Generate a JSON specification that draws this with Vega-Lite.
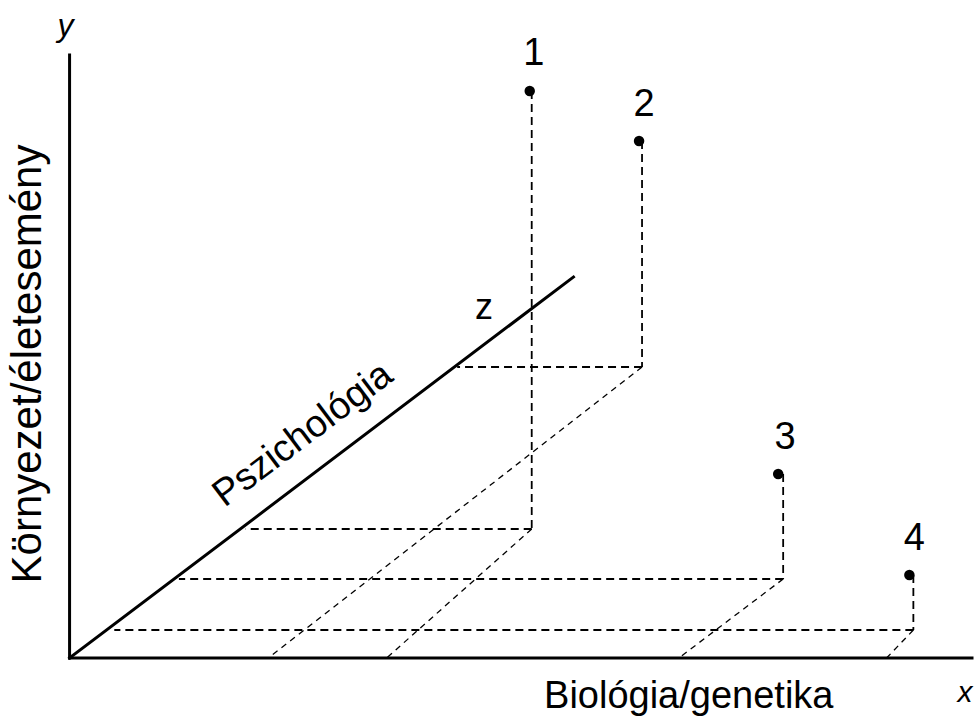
{
  "$schema": "https://vega.github.io/schema/vega-lite/v6.json",
  "width": 978,
  "height": 727,
  "autosize": {"type": "fit", "contains": "padding"},
  "padding": 0,
  "background": "white",
  "config": {"view": {"stroke": null}},
  "datasets": {
    "axes": [
      {"seg": "y", "ord": 0, "x": 0, "y": 0},
      {"seg": "y", "ord": 1, "x": 0, "y": 603},
      {"seg": "x", "ord": 0, "x": 0, "y": 0},
      {"seg": "x", "ord": 1, "x": 908, "y": 0},
      {"seg": "z", "ord": 0, "x": 0, "y": 0},
      {"seg": "z", "ord": 1, "x": 507, "y": 381}
    ],
    "guides": [
      {"seg": "v1", "ord": 0, "x": 465, "y": 567},
      {"seg": "v1", "ord": 1, "x": 465, "y": 129},
      {"seg": "h1", "ord": 0, "x": 465, "y": 129},
      {"seg": "h1", "ord": 1, "x": 177, "y": 129},
      {"seg": "v2", "ord": 0, "x": 576, "y": 517},
      {"seg": "v2", "ord": 1, "x": 576, "y": 291},
      {"seg": "h2", "ord": 0, "x": 576, "y": 291},
      {"seg": "h2", "ord": 1, "x": 390, "y": 291},
      {"seg": "v3", "ord": 0, "x": 718, "y": 184},
      {"seg": "v3", "ord": 1, "x": 718, "y": 79},
      {"seg": "h3", "ord": 0, "x": 718, "y": 79},
      {"seg": "h3", "ord": 1, "x": 110, "y": 79},
      {"seg": "v4", "ord": 0, "x": 849, "y": 83},
      {"seg": "v4", "ord": 1, "x": 849, "y": 28},
      {"seg": "h4", "ord": 0, "x": 849, "y": 28},
      {"seg": "h4", "ord": 1, "x": 45, "y": 28}
    ],
    "diagonals": [
      {"seg": "d1", "ord": 0, "x": 465, "y": 129},
      {"seg": "d1", "ord": 1, "x": 319, "y": 0},
      {"seg": "d2", "ord": 0, "x": 576, "y": 291},
      {"seg": "d2", "ord": 1, "x": 200, "y": 0},
      {"seg": "d3", "ord": 0, "x": 718, "y": 79},
      {"seg": "d3", "ord": 1, "x": 613, "y": 0},
      {"seg": "d4", "ord": 0, "x": 849, "y": 28},
      {"seg": "d4", "ord": 1, "x": 822, "y": 0}
    ],
    "points": [
      {"id": "1", "x": 463, "y": 567, "lx": 467, "ly": 604},
      {"id": "2", "x": 573, "y": 517, "lx": 578, "ly": 553},
      {"id": "3", "x": 713, "y": 184, "lx": 720, "ly": 220},
      {"id": "4", "x": 845, "y": 83, "lx": 850, "ly": 119}
    ],
    "italic": [
      {"t": "y", "x": -4, "y": 632, "size": 32},
      {"t": "x", "x": 901, "y": -35, "size": 30}
    ],
    "labels": [
      {"t": "z", "x": 417, "y": 350, "a": 0, "size": 36},
      {"t": "Biológia/genetika", "x": 623, "y": -39, "a": 0, "size": 38},
      {"t": "Környezet/életesemény", "x": -42, "y": 294, "a": 270, "size": 42},
      {"t": "Pszichológia", "x": 235, "y": 223, "a": -37, "size": 38}
    ]
  },
  "layer": [
    {
      "data": {"name": "axes"},
      "mark": {"type": "line", "color": "black", "strokeWidth": 3, "strokeCap": "square"},
      "encoding": {
        "x": {"field": "x", "type": "quantitative", "axis": null, "scale": {"domain": [-70, 908], "nice": false, "zero": false}},
        "y": {"field": "y", "type": "quantitative", "axis": null, "scale": {"domain": [-69, 658], "nice": false, "zero": false}},
        "detail": {"field": "seg"},
        "order": {"field": "ord"}
      }
    },
    {
      "data": {"name": "guides"},
      "mark": {"type": "line", "color": "black", "strokeWidth": 1.8, "strokeDash": [8, 5]},
      "encoding": {
        "x": {"field": "x", "type": "quantitative", "axis": null, "scale": {"domain": [-70, 908], "nice": false, "zero": false}},
        "y": {"field": "y", "type": "quantitative", "axis": null, "scale": {"domain": [-69, 658], "nice": false, "zero": false}},
        "detail": {"field": "seg"},
        "order": {"field": "ord"}
      }
    },
    {
      "data": {"name": "diagonals"},
      "mark": {"type": "line", "color": "black", "strokeWidth": 1.3, "strokeDash": [6, 5]},
      "encoding": {
        "x": {"field": "x", "type": "quantitative", "axis": null, "scale": {"domain": [-70, 908], "nice": false, "zero": false}},
        "y": {"field": "y", "type": "quantitative", "axis": null, "scale": {"domain": [-69, 658], "nice": false, "zero": false}},
        "detail": {"field": "seg"},
        "order": {"field": "ord"}
      }
    },
    {
      "data": {"name": "points"},
      "mark": {"type": "circle", "color": "black", "opacity": 1, "size": 110},
      "encoding": {
        "x": {"field": "x", "type": "quantitative", "axis": null, "scale": {"domain": [-70, 908], "nice": false, "zero": false}},
        "y": {"field": "y", "type": "quantitative", "axis": null, "scale": {"domain": [-69, 658], "nice": false, "zero": false}}
      }
    },
    {
      "data": {"name": "points"},
      "mark": {"type": "text", "color": "black", "font": "Liberation Sans", "fontSize": 38, "align": "center", "baseline": "middle"},
      "encoding": {
        "x": {"field": "lx", "type": "quantitative", "axis": null, "scale": {"domain": [-70, 908], "nice": false, "zero": false}},
        "y": {"field": "ly", "type": "quantitative", "axis": null, "scale": {"domain": [-69, 658], "nice": false, "zero": false}},
        "text": {"field": "id"}
      }
    },
    {
      "data": {"name": "italic"},
      "mark": {"type": "text", "color": "black", "font": "Liberation Sans", "fontStyle": "italic", "align": "center", "baseline": "middle"},
      "encoding": {
        "x": {"field": "x", "type": "quantitative", "axis": null, "scale": {"domain": [-70, 908], "nice": false, "zero": false}},
        "y": {"field": "y", "type": "quantitative", "axis": null, "scale": {"domain": [-69, 658], "nice": false, "zero": false}},
        "text": {"field": "t"},
        "size": {"field": "size", "type": "quantitative", "scale": null}
      }
    },
    {
      "data": {"name": "labels"},
      "mark": {"type": "text", "color": "black", "font": "Liberation Sans", "align": "center", "baseline": "middle"},
      "encoding": {
        "x": {"field": "x", "type": "quantitative", "axis": null, "scale": {"domain": [-70, 908], "nice": false, "zero": false}},
        "y": {"field": "y", "type": "quantitative", "axis": null, "scale": {"domain": [-69, 658], "nice": false, "zero": false}},
        "text": {"field": "t"},
        "angle": {"field": "a", "type": "quantitative", "scale": null},
        "size": {"field": "size", "type": "quantitative", "scale": null}
      }
    }
  ]
}
